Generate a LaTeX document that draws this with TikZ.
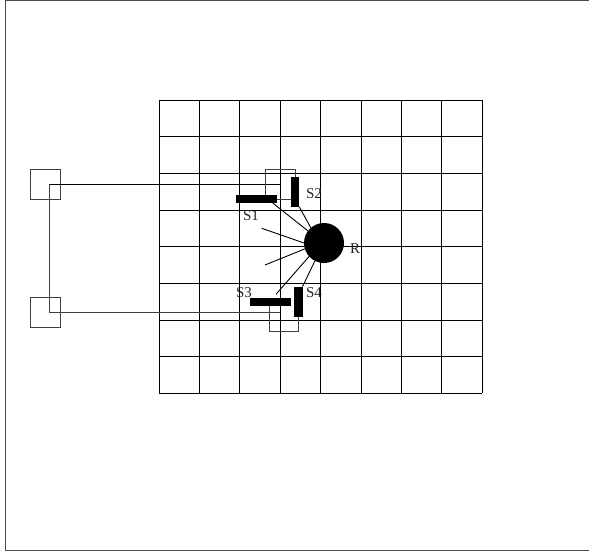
\documentclass[tikz,border=0pt]{standalone}
\usepackage{fontspec}
\setmainfont{Liberation Serif}
\usetikzlibrary{calc}
\tikzset{
  x=1pt,y=-1pt,
  gridline/.style={line width=1pt,black},
  wire/.style={line width=0.9pt,black!75},
  thin wire/.style={line width=0.9pt,black},
  spoke/.style={line width=0.9pt,black},
  ctrl/.style={draw=black!75,line width=0.9pt,fill=none,minimum width=30pt,minimum height=29.6pt,inner sep=0pt,outer sep=0pt},
  bar/.style={fill=black,inner sep=0pt,outer sep=0pt},
  lab/.style={font=\fontsize{15}{15}\selectfont,inner sep=0pt,text=black!85}
}
\begin{document}
\begin{tikzpicture}
\useasboundingbox (0,0) rectangle (589,554);
\draw[line width=1pt,black!70] (589,0.5) -- (5,0.5) -- (5,550.5) -- (589,550.5);
% grid
\foreach \x in {159,199.4,239.8,280.2,320.6,361,401.4,441.8,482.2}
  \draw[gridline] (\x,100) -- (\x,393);
\foreach \y in {100,136.6,173.3,210,246.6,283.3,320,356.6,393.2}
  \draw[gridline] (159,\y) -- (482.2,\y);
% controllers
\node[ctrl] (c1) at (45.5,184.5) {};
\node[ctrl] (c2) at (45.5,312.5) {};
% bars and receiver
\node[bar,minimum width=41pt,minimum height=8pt] (s1) at (256.2,199) {};
\node[bar,minimum width=8.4pt,minimum height=30pt] (s2) at (295,191.7) {};
\node[bar,minimum width=41.4pt,minimum height=8pt] (s3) at (270.6,301.7) {};
\node[bar,minimum width=8.4pt,minimum height=30pt] (s4) at (298.3,301.7) {};
\node[circle,fill=black,minimum size=40pt,inner sep=0pt,outer sep=0pt] (r) at (324,243) {};
% free ends
\coordinate (f1) at (261.7,228.3);
\coordinate (f2) at (265,265);
\coordinate (j1) at (49,184.3);
\coordinate (j2) at (49,312.7);
\coordinate (e1) at (280.2,184.3);
\coordinate (e2) at (280.2,312.7);
\coordinate (s1w) at (265.3,195);
\coordinate (s2w) at (295,176.7);
\coordinate (s3w) at (269.3,305.7);
\coordinate (s4w) at (298.7,316.7);
\coordinate (s1s) at (272.7,203);
\coordinate (s3n) at (276,294.3);
% wiring
\draw[thin wire] (j1) -- (e1);
\draw[wire] (j2) -- (e2);
\draw[wire] (j1) -- (j2);
\draw[wire] (s1w) |- (s2w |- 0,169.3) -- (s2w);
\draw[wire] (s1.east) -- (s2.west |- s1.east);
\draw[wire] (s3w) |- (s4w |- 0,331) -- (s4w);
% spokes
\draw[spoke] (s1s) -- (r.143);
\draw[spoke] (s2.south east) -- (r.131);
\draw[spoke] (f1) -- (r.180);
\draw[spoke] (f2) -- (r.197);
\draw[spoke] (s3n) -- (r.222);
\draw[spoke] (s4.north east) -- (r.243);
% labels
\node[lab] (l1) at (251,216) {S1};
\node[lab] (l2) at (314,194) {S2};
\node[lab] (l3) at (244,293) {S3};
\node[lab] (l4) at (314,293) {S4};
\node[lab] (l5) at (355,249) {R};
\end{tikzpicture}
\end{document}
